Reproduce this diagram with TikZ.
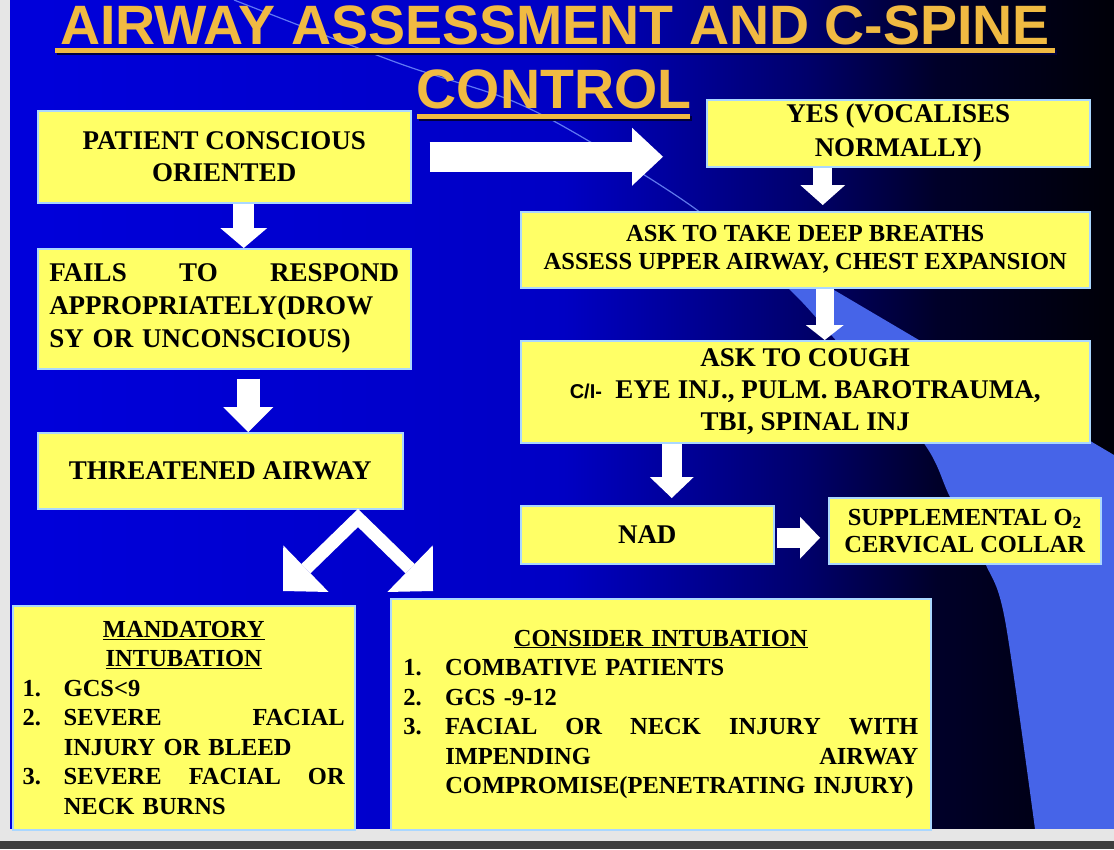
\documentclass[tikz,border=0pt]{standalone}
\usepackage{fontspec}
\setmainfont{Liberation Serif}
\setsansfont{Liberation Sans}
\usetikzlibrary{calc,arrows.meta}
\definecolor{boxyellow}{RGB}{255,255,102}
\definecolor{boxline}{RGB}{170,215,255}
\definecolor{titlecol}{RGB}{240,186,66}
\definecolor{titleshade}{RGB}{0,0,60}
\definecolor{crescent}{RGB}{70,100,232}
\definecolor{streakcol}{RGB}{120,150,255}
\definecolor{sidegray}{RGB}{230,230,230}
\definecolor{footgray}{RGB}{62,62,62}
\pgfdeclarehorizontalshading{slidebg}{100bp}{rgb(0bp)=(0,0,0.86); rgb(25bp)=(0,0,0.86); rgb(50bp)=(0,0,0.77); rgb(61bp)=(0,0,0.42); rgb(67bp)=(0,0,0.16); rgb(75bp)=(0,0,0.03); rgb(100bp)=(0,0,0.03)}
\setlength{\parindent}{0pt}

\begin{document}
\begin{tikzpicture}[x=1pt,y=-1pt,
          ybox/.style ={draw=boxline,line width=1.5pt,fill=boxyellow,inner sep=0pt,align=center,anchor=north west},
          bigtxt/.style={font=\bfseries\fontsize{27}{32}\selectfont},
          smalltxt/.style={font=\bfseries\fontsize{24.5}{29.5}\selectfont},
          titletext/.style={text=titlecol,inner sep=0pt,anchor=base,font=\sffamily\bfseries\fontsize{55.5}{60}\selectfont},
          fat/.style n args={3}{draw=white,line width=#1pt,-{Triangle[width=#2pt,length=#3pt,line width=0pt]}}]
  \useasboundingbox (0,0) rectangle (1114,849);
  % slide background
  \shade[shading=slidebg] (10,0) rectangle (1114,829);
  \fill[crescent] plot[smooth] coordinates {(700,211) (787,287) (833,337) (923,442) (950,497) (985,563) (1005,620) (1035,829)}
    -- (1114,829) -- (1114,455) -- cycle;
  \draw[streakcol,line width=1.2pt,opacity=0.8] plot[smooth] coordinates {(234,0) (398,63) (510,100) (587,140) (697,210) (787,287)};
  \fill[sidegray] (0,0) rectangle (10,829);
  \fill[sidegray] (0,829) rectangle (1114,841);
  \fill[footgray] (0,841) rectangle (1114,849);
  % title
  \fill[titleshade] (57,50) rectangle (1057,55);
  \fill[titlecol] (55,48) rectangle (1055,53);
  \fill[titleshade] (419,116) rectangle (692,121);
  \fill[titlecol] (417,114) rectangle (690,119);
  \node[titletext] (title1) at (555,44) {AIRWAY ASSESSMENT AND C-SPINE};
  \node[titletext] (title2) at (554,108) {CONTROL};
  % left column
  \node[ybox,bigtxt,minimum width=373pt,minimum height=92pt] (pco) at (37,110) {PATIENT CONSCIOUS\\ORIENTED};
  \node[ybox,font=\bfseries\fontsize{27}{33}\selectfont,minimum width=373pt,minimum height=120pt,text width=350pt,align=left] (fails) at (37,248)
    {FAILS\hfill TO\hfill RESPOND\\APPROPRIATELY(DROW\\SY OR UNCONSCIOUS)};
  \node[ybox,bigtxt,minimum width=365pt,minimum height=76pt] (threat) at (37,432) {THREATENED AIRWAY};
  % right column
  \node[ybox,font=\bfseries\fontsize{27}{34}\selectfont,minimum width=383pt,minimum height=67pt] (yes) at (706,99) {YES (VOCALISES\\NORMALLY)};
  \node[ybox,font=\bfseries\fontsize{24.5}{28}\selectfont,minimum width=569pt,minimum height=76pt] (ask) at (520,211)
    {ASK TO TAKE DEEP BREATHS\\ASSESS UPPER AIRWAY, CHEST EXPANSION};
  \node[ybox,bigtxt,minimum width=569pt,minimum height=102pt] (cough) at (520,340)
    {ASK TO COUGH\\{\sffamily\fontsize{20}{32}\selectfont C/I-}\ \ EYE INJ., PULM. BAROTRAUMA,\\TBI, SPINAL INJ};
  \node[ybox,bigtxt,minimum width=253pt,minimum height=58pt] (nad) at (520,505) {NAD};
  \node[ybox,font=\bfseries\fontsize{24.5}{27}\selectfont,minimum width=272pt,minimum height=66pt] (supp) at (828,497)
    {SUPPLEMENTAL O\textsubscript{2}\\CERVICAL COLLAR};
  % bottom boxes
  \node[ybox,smalltxt,minimum width=342pt,minimum height=224pt,text width=322pt,align=left] (mand) at (12,605)
    {\makebox[322pt]{\underline{MANDATORY}}\\
     \makebox[322pt]{\underline{INTUBATION}}\\
     \makebox[41pt][l]{1.}GCS<9\\
     \makebox[41pt][l]{2.}SEVERE\hfill FACIAL\\
     \hspace*{41pt}INJURY OR BLEED\\
     \makebox[41pt][l]{3.}SEVERE\hfill FACIAL\hfill OR\\
     \hspace*{41pt}NECK BURNS};
  \node[ybox,smalltxt,minimum width=540pt,minimum height=231pt,text width=515pt,align=left] (cons) at (390,598)
    {\makebox[515pt]{\underline{CONSIDER INTUBATION}}\\
     \makebox[42pt][l]{1.}COMBATIVE PATIENTS\\
     \makebox[42pt][l]{2.}GCS -9-12\\
     \makebox[42pt][l]{3.}FACIAL\hfill OR\hfill NECK\hfill INJURY\hfill WITH\\
     \hspace*{42pt}IMPENDING\hfill AIRWAY\\
     \hspace*{42pt}COMPROMISE(PENETRATING INJURY)};
  % block arrows
  \draw[fat={30}{58}{31}] ($(pco.east)+(18,0)$) -- ($(yes.west |- pco.east)+(-43,0)$);
  \draw[fat={21}{47}{20}] ($(pco.south)+(19.5,0)$) -- ($(fails.north)+(19.5,0)$);
  \draw[fat={23}{50}{25}] ($(fails.south)+(24,9)$) -- ($(threat.north)+(28,0)$);
  \draw[fat={19}{45}{20}] ($(yes.south)+(-75.5,0)$) -- ($(ask.north)+(17.5,-6)$);
  \draw[fat={18}{38}{15}] ($(ask.south)+(19.5,0)$) -- ($(cough.north)+(19.5,0)$);
  \draw[fat={20}{44}{21}] ($(cough.south)+(-133.5,0)$) -- ($(nad.north)+(24.5,-7)$);
  \draw[fat={20}{42}{20}] ($(nad.east)+(2,3)$) -- ($(nad.east -| supp.west)+(-8,3)$);
  % split towards the two intubation boxes
  \coordinate (fork) at (358,518);
  \coordinate (mandtip) at (283,591);
  \coordinate (constip) at (433,591);
  \draw[draw=white,line width=13pt,line join=miter,
        {Triangle[width=65pt,length=32pt,line width=0pt]}-{Triangle[width=65pt,length=32pt,line width=0pt]}]
    (mandtip) -- (fork) -- (constip);
\end{tikzpicture}
\end{document}
